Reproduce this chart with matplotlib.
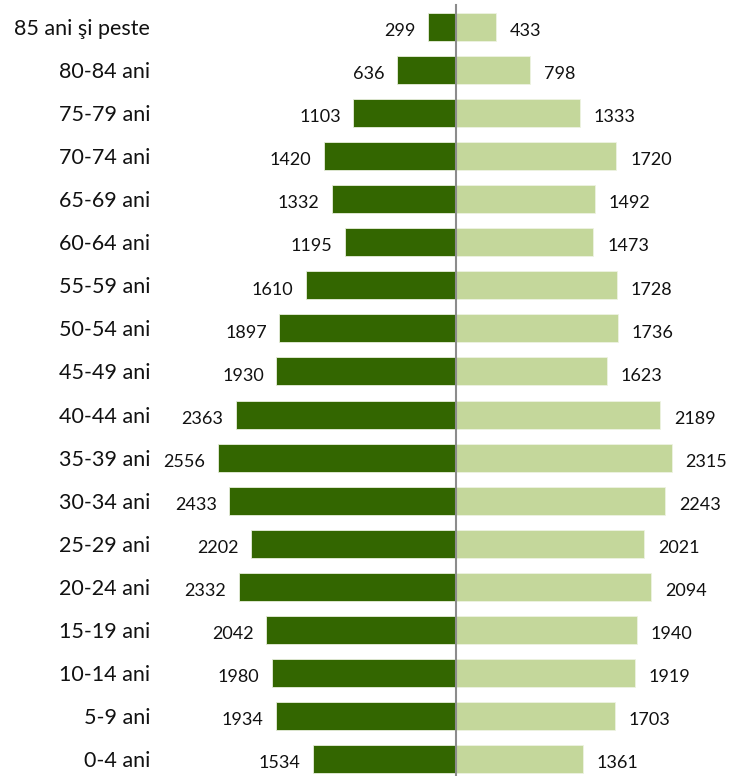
import matplotlib
matplotlib.use("Agg")
import matplotlib.pyplot as plt
import numpy as np

plt.rcParams["font.family"] = ["Lato", "DejaVu Sans"]

# grupe de vârstă, de jos în sus
ages = ["0-4 ani", "5-9 ani", "10-14 ani", "15-19 ani", "20-24 ani",
        "25-29 ani", "30-34 ani", "35-39 ani", "40-44 ani", "45-49 ani",
        "50-54 ani", "55-59 ani", "60-64 ani", "65-69 ani", "70-74 ani",
        "75-79 ani", "80-84 ani", "85 ani şi peste"]
left_vals = [1534, 1934, 1980, 2042, 2332, 2202, 2433, 2556, 2363, 1930,
             1897, 1610, 1195, 1332, 1420, 1103, 636, 299]
right_vals = [1361, 1703, 1919, 1940, 2094, 2021, 2243, 2315, 2189, 1623,
              1736, 1728, 1473, 1492, 1720, 1333, 798, 433]

DARK = "#336600"
LIGHT = "#c4d79b"

fig = plt.figure(figsize=(7.33, 7.76), dpi=100)
ax = fig.add_axes([160 / 733, 0, 1 - 160 / 733, 1])

y = np.arange(len(ages))
lv = np.array(left_vals)
rv = np.array(right_vals)
ax.barh(y, -lv, height=0.65, color=DARK, edgecolor="#e8eedc", lw=0.6)
ax.barh(y, rv, height=0.65, color=LIGHT, edgecolor="#eef3e2", lw=0.6)

for yi, a, b in zip(y, lv, rv):
    ax.annotate(str(a), xy=(-a, yi), xytext=(-9, -3), textcoords="offset points",
                ha="right", va="center", fontsize=13, color="#111111")
    ax.annotate(str(b), xy=(b, yi), xytext=(10, -3), textcoords="offset points",
                ha="left", va="center", fontsize=13, color="#111111")

ax.axvline(0, ymin=0, ymax=0.994, color="#8c8c8c", lw=1.5, zorder=3)

ax.set_xlim(-3179, 2975)
ax.set_ylim(-0.395, 17.627)
ax.set_yticks(y)
ax.set_yticklabels(ages, fontsize=15.5, color="#111111")
ax.tick_params(axis="y", length=0, pad=7)
ax.set_xticks([])
for s in ax.spines.values():
    s.set_visible(False)

fig.savefig("out.png", dpi=100)
